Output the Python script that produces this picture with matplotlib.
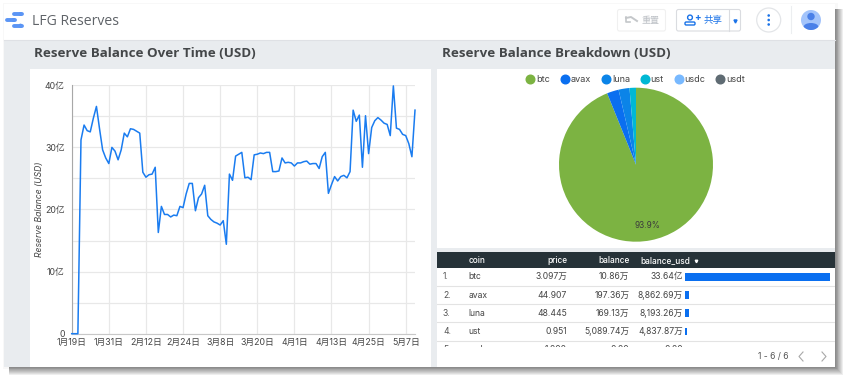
"""
LFG Reserves dashboard, reserve balance over time and breakdown.
"""

import numpy as np
import pandas as pd
import matplotlib
matplotlib.use('Agg')
import matplotlib.pyplot as plt
from matplotlib.patches import Rectangle, FancyBboxPatch, Circle, Ellipse
from matplotlib.lines import Line2D

plt.rcParams['font.family'] = ['Inter', 'Noto Sans CJK SC', 'DejaVu Sans']

W, H = 848, 380

# daily reserve balance, in units of 亿 USD, from 2022-01-19
balance_yi = [0, 0, 0, 31.2, 33.6, 32.7, 32.5, 34.7, 36.6, 33.0, 29.6, 28.3, 27.4, 30.0, 29.4, 28.0,
              29.6, 32.3, 31.7, 33.0, 32.9, 32.6, 32.3, 26.0, 25.2, 25.6, 25.7, 26.8, 16.3, 20.5, 19.2, 19.2,
              18.8, 19.1, 19.0, 20.5, 20.3, 22.5, 24.2, 24.2, 19.8, 21.9, 22.5, 23.9, 19.0, 18.4, 18.0, 17.8,
              17.5, 18.2, 14.4, 25.7, 24.7, 28.6, 28.9, 29.2, 25.1, 25.2, 24.8, 28.8, 28.9, 29.1, 29.0, 29.2,
              29.2, 26.1, 26.1, 26.2, 28.3, 27.5, 27.6, 27.5, 27.0, 27.5, 27.5, 27.7, 27.8, 27.3, 27.4, 27.4,
              26.6, 28.5, 29.2, 22.6, 24.0, 25.3, 24.6, 25.3, 25.5, 25.1, 26.1, 36.0, 34.2, 35.2, 26.8, 35.1,
              29.0, 33.2, 34.3, 34.8, 34.4, 33.9, 33.7, 31.9, 39.9, 33.1, 32.9, 32.1, 31.9, 30.6, 28.5, 36.0]
start_date = '2022-01-19'
date_labels = ['1月19日', '1月31日', '2月12日', '2月24日', '3月8日', '3月20日', '4月1日', '4月13日', '4月25日', '5月7日']
y_labels = ['0', '10亿', '20亿', '30亿', '40亿']

coins = ['btc', 'avax', 'luna', 'ust', 'usdc', 'usdt']
coin_usd = [33.64e8, 8862.69e4, 8193.26e4, 4837.87e4, 0, 0]
coin_colors = ['#7cb342', '#0a6ff0', '#0b84e8', '#00b8d4', '#78b9ff', '#5f6b73']

row_ids = ['1.', '2.', '3.', '4.', '5.']
row_price = ['3.097万', '44.907', '48.445', '0.951', '1.000']
row_balance = ['10.86万', '197.36万', '169.13万', '5,089.74万', '0.00']
row_usd = ['33.64亿', '8,862.69万', '8,193.26万', '4,837.87万', '0.00']

dates = pd.date_range(start_date, periods=len(balance_yi), freq='D')


def px_axes(left, top, right, bottom, **kw):
    return fig.add_axes([left / W, 1 - bottom / H, (right - left) / W, (bottom - top) / H], **kw)


fig = plt.figure(figsize=(W / 100, H / 100), dpi=100, facecolor='white')

# page chrome, in pixel coordinates
bg = px_axes(0, 0, W, H)
bg.set_xlim(0, W)
bg.set_ylim(H, 0)
bg.axis('off')

# soft shadow, right and bottom only
bg.add_patch(Rectangle((2.5, 2.5), 835, 366, fc='#f8f8f8', ec='none'))
for grow in range(8, 0, -1):
    bg.add_patch(Rectangle((9, 9), 825.5 + grow, 357.5 + grow, fc='black', ec='none', alpha=0.065))
bg.add_patch(Rectangle((4, 4), 830.5, 362.5, fc='#e9ecef', ec='none'))
bg.add_patch(Rectangle((4, 4), 830.5, 36, fc='white', ec='none'))
bg.plot([4, 834.5], [40, 40], color='#dfe1e5', lw=0.8)
bg.add_patch(Rectangle((30, 69), 401, 297.5, fc='white', ec='none'))
bg.add_patch(Rectangle((437, 69), 397.5, 179, fc='white', ec='none'))
bg.add_patch(Rectangle((437, 252), 397.5, 114.5, fc='white', ec='none'))

# logo
bg.plot([14, 21.5], [14, 14], color='#5b95f5', lw=2.8, solid_capstyle='round')
bg.plot([7, 14.5], [20, 20], color='#5b95f5', lw=2.8, solid_capstyle='round')
bg.plot([14, 21.5], [25.7, 25.7], color='#5b95f5', lw=2.8, solid_capstyle='round')
for lx, ly in [(20.5, 14), (13.5, 20), (20.5, 25.7)]:
    bg.add_patch(Circle((lx, ly), 2, fc='#1a6fe8', ec='none'))
bg.text(32, 21.3, 'LFG Reserves', fontsize=10.1, color='#5f6368', family='Open Sans', va='center')

# toolbar
bg.add_patch(FancyBboxPatch((617.5, 9.5), 48, 21.5, boxstyle='round,pad=0,rounding_size=2',
                            fc='white', ec='#f0f0f0', lw=0.8))
bg.plot([626, 631, 637], [18, 17, 21], color='#c4c7ca', lw=1.4)
bg.plot([626, 626, 630], [17, 22, 22], color='#c4c7ca', lw=1.2)
bg.text(642, 20, '重置', fontsize=6.5, color='#bdc1c6', family='Noto Sans CJK SC', va='center')
bg.add_patch(FancyBboxPatch((676.5, 9.5), 64, 21.5, boxstyle='round,pad=0,rounding_size=2',
                            fc='white', ec='#dadce0', lw=0.8))
bg.plot([728.5, 728.5], [9.5, 31], color='#dadce0', lw=0.8)
bg.add_patch(Circle((690, 17.5), 2.4, fc='white', ec='#1a73e8', lw=1))
bg.add_patch(FancyBboxPatch((685, 22), 10, 3, boxstyle='round,pad=0,rounding_size=1.2', fc='white', ec='#1a73e8', lw=1))
bg.text(697.5, 18, '+', fontsize=7, color='#1a73e8', ha='center', va='center', weight='bold')
bg.text(704, 20, '共享', fontsize=6.8, color='#1a73e8', family='Noto Sans CJK SC', va='center')
bg.plot([734.5], [20.5], marker='v', ms=2.2, color='#1a73e8')
bg.add_patch(Circle((768.7, 20), 12, fc='white', ec='#e3e5e8', lw=0.9))
for dy in [15.5, 20, 24.5]:
    bg.add_patch(Circle((768.7, dy), 1.3, fc='#1a73e8', ec='none'))
bg.plot([791, 791], [6, 33], color='#eceef0', lw=0.8)
av = Circle((811, 20), 10, fc='#a3c4fb', ec='none')
bg.add_patch(av)
bg.add_patch(Circle((811, 16.5), 3.7, fc='#4a80e8', ec='none'))
sh = Ellipse((811, 27), 15, 8, fc='#4a80e8', ec='none')
bg.add_patch(sh)
sh.set_clip_path(av)

# card titles
bg.text(34, 53.5, 'Reserve Balance Over Time (USD)', fontsize=9.6, weight='bold', color='#444749',
        family='Open Sans', va='center')
bg.text(442, 53.5, 'Reserve Balance Breakdown (USD)', fontsize=9.65, weight='bold', color='#444749',
        family='Open Sans', va='center')

# time series
ax = px_axes(71.7, 85.3, 415, 333.7, facecolor='none')
ax.plot(dates, balance_yi, color='#1a7cf0', lw=1.1, clip_on=False, zorder=3)
ax.set_xlim(dates[0], dates[-1])
ax.set_ylim(0, 40)
ax.set_yticks([0, 10, 20, 30, 40], y_labels)
ax.set_yticks([5, 15, 25, 35], minor=True)
ax.set_xticks(dates[::12][:len(date_labels)], date_labels)
ax.grid(True, which='both', color='#e8e8e8', lw=0.9)
ax.set_axisbelow(True)
ax.tick_params(which='both', length=0)
ax.tick_params(axis='y', labelsize=6.3, labelcolor='#444444', pad=5)
ax.tick_params(axis='x', labelsize=6.3, labelcolor='#444444', pad=3)
for side in ['top', 'right']:
    ax.spines[side].set_visible(False)
ax.spines['left'].set_color('#a8a8a8')
ax.spines['bottom'].set_color('#c8c8c8')
ax.set_ylabel('Reserve Balance (USD)', fontsize=6.2, style='italic', color='#444444')
ax.yaxis.set_label_coords((44 - 71.7) / (415 - 71.7), 0.5)

# pie
pie_ax = px_axes(559, 87.7, 713, 241.7)
pie_ax.pie(coin_usd, colors=coin_colors, startangle=90, counterclock=False, radius=1,
           autopct=lambda p: f'{p:.1f}%' if p > 50 else '', pctdistance=0.81,
           textprops={'fontsize': 6, 'color': '#3c3c3c'})
pie_ax.set_xlim(-1, 1)
pie_ax.set_ylim(-1, 1)

handles = [Line2D([], [], ls='none', marker='o', ms=6.2, color=c, label=n) for c, n in zip(coin_colors, coins)]
fig.legend(handles=handles, loc='center', bbox_to_anchor=(635 / W, 1 - 79.3 / H), ncol=6, frameon=False,
           fontsize=6.5, labelcolor='#444444', handletextpad=0.05, columnspacing=1.05, handlelength=1.2)

# table
bg.add_patch(Rectangle((437, 252), 397.5, 15.8, fc='#263238', ec='none'))
for xt, name, ha in [(468.5, 'coin', 'left'), (567, 'price', 'right'), (629.5, 'balance', 'right'),
                     (640, 'balance_usd', 'left')]:
    bg.text(xt, 260.2, name, fontsize=5.95, color='white', ha=ha, va='center', weight='medium')
bg.plot([(436 + 779 / 3)], [260.5], marker='v', ms=1.8, color='white')

row_h = 18.2
tab = px_axes(437, 267.8, 834.5, 347, facecolor='none')
tab.set_xlim(437, 834.5)
tab.set_ylim((347 - 267.8) / row_h, 0)
tab.axis('off')
for i in range(len(row_ids)):
    yy = i + 0.5
    tab.text(443, yy, row_ids[i], fontsize=6.2, color='#555555', va='center', clip_on=True)
    tab.text(468.5, yy, coins[i], fontsize=6.2, color='#444444', va='center', clip_on=True)
    tab.text(567, yy, row_price[i], fontsize=6.2, color='#444444', va='center', ha='right', clip_on=True)
    tab.text(629.5, yy, row_balance[i], fontsize=6.2, color='#444444', va='center', ha='right', clip_on=True)
    tab.text(683, yy, row_usd[i], fontsize=6.2, color='#444444', va='center', ha='right', clip_on=True)
    tab.axhline(i + 1, color='#e3e3e3', lw=0.8)

bars = px_axes(685, 267.8, 830, 347, facecolor='none')
bars.barh(np.arange(5) + 0.5, coin_usd[:5], height=0.43, color='#0a6ff0')
bars.set_xlim(0, coin_usd[0])
bars.set_ylim((347 - 267.8) / row_h, 0)
bars.axis('off')

# pager
bg.text(757.5, 356.5, '1 - 6 / 6', fontsize=6.2, color='#555555', va='center')
bg.plot([803, 799, 803], [352, 356.5, 361], color='#a8a8a8', lw=0.8)
bg.plot([822, 826, 822], [352, 356.5, 361], color='#a8a8a8', lw=0.8)

fig.savefig('out.png', dpi=100)
